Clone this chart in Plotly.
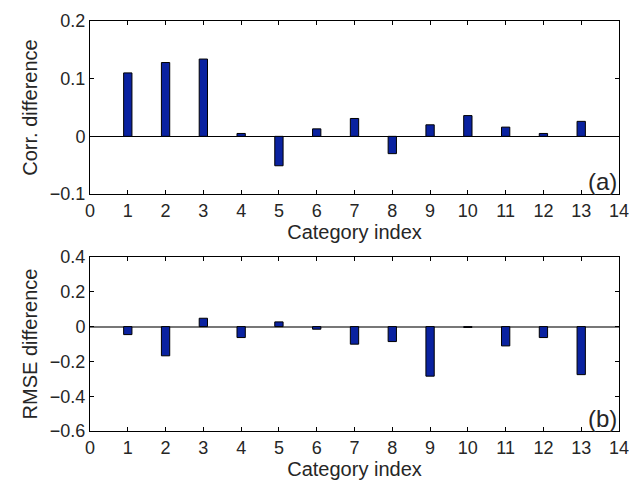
import plotly.graph_objects as go

categories = list(range(1, 14))
corr_diff = [0.110, 0.128, 0.134, 0.005, -0.051, 0.013, 0.031, -0.030, 0.020, 0.036, 0.016, 0.005, 0.026]
rmse_diff = [-0.046, -0.168, 0.048, -0.063, 0.027, -0.015, -0.101, -0.086, -0.285, -0.005, -0.111, -0.063, -0.276]
x_ticks = list(range(0, 15))
corr_ticks = [-0.1, 0, 0.1, 0.2]
corr_tick_text = ["\u22120.1", "0", "0.1", "0.2"]
rmse_ticks = [-0.6, -0.4, -0.2, 0, 0.2, 0.4]
rmse_tick_text = ["\u22120.6", "\u22120.4", "\u22120.2", "0", "0.2", "0.4"]

FILL = "#0a22a0"
FONT = "Liberation Sans, Arial, sans-serif"
TXT = "#262626"
TICK_SIZE = 18
TITLE_SIZE = 20

fig = go.Figure()
fig.add_trace(go.Bar(x=categories, y=corr_diff, width=0.22, marker=dict(color=FILL, line=dict(color="black", width=1)),
                     xaxis="x", yaxis="y", showlegend=False))
fig.add_trace(go.Bar(x=categories, y=rmse_diff, width=0.22, marker=dict(color=FILL, line=dict(color="black", width=1)),
                     xaxis="x2", yaxis="y2", showlegend=False))

axis_common = dict(showline=True, linecolor="black", linewidth=1, mirror="ticks", ticks="inside", ticklen=4,
                   tickcolor="black", showgrid=False, automargin=False, ticklabeloverflow="allow",
                   tickfont=dict(size=TICK_SIZE, color=TXT, family=FONT))

fig.update_layout(
    width=629, height=482,
    margin=dict(l=90, r=10, t=21, b=51),
    paper_bgcolor="white", plot_bgcolor="white",
    font=dict(family=FONT, color=TXT, size=TICK_SIZE),
    xaxis=dict(domain=[0, 1], anchor="y", range=[0, 14], tickvals=x_ticks, zeroline=False,
               title=dict(text="Category index", font=dict(size=TITLE_SIZE, color=TXT), standoff=4), **axis_common),
    yaxis=dict(domain=[0.578, 1], anchor="x", range=[-0.1, 0.2], tickvals=corr_ticks, ticktext=corr_tick_text,
               zeroline=True, zerolinecolor="black", zerolinewidth=1,
               title=dict(text="Corr. difference", font=dict(size=TITLE_SIZE, color=TXT), standoff=6), **axis_common),
    xaxis2=dict(domain=[0, 1], anchor="y2", range=[0, 14], tickvals=x_ticks, zeroline=False,
                title=dict(text="Category index", font=dict(size=TITLE_SIZE, color=TXT), standoff=4), **axis_common),
    yaxis2=dict(domain=[0, 0.4244], anchor="x2", range=[-0.6, 0.4], tickvals=rmse_ticks, ticktext=rmse_tick_text,
                zeroline=True, zerolinecolor="#777777", zerolinewidth=1.5,
                title=dict(text="RMSE difference", font=dict(size=TITLE_SIZE, color=TXT), standoff=6), **axis_common),
    annotations=[
        dict(text="(a)", x=1, y=0.578, xref="paper", yref="paper", xanchor="right", yanchor="bottom",
             showarrow=False, font=dict(size=24, color=TXT, family=FONT), xshift=0, yshift=-3),
        dict(text="(b)", x=1, y=0, xref="paper", yref="paper", xanchor="right", yanchor="bottom",
             showarrow=False, font=dict(size=24, color=TXT, family=FONT), xshift=0, yshift=-3),
    ],
)

fig.write_html("out.html", config={"displayModeBar": False},
               post_script="document.body.style.margin='0';document.body.style.overflow='hidden';")
